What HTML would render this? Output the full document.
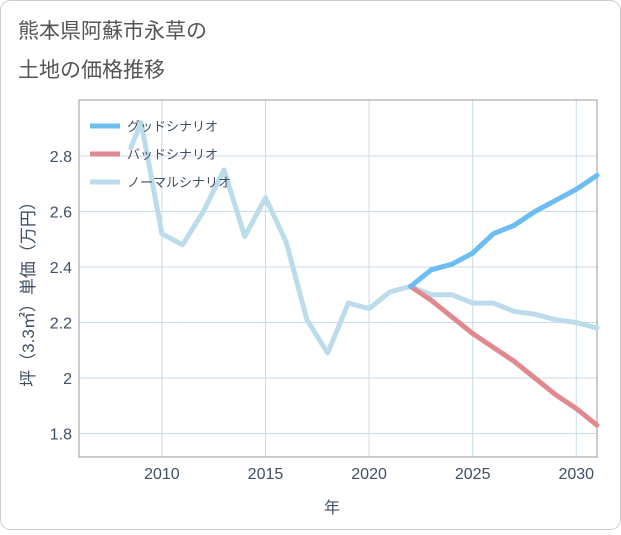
<!DOCTYPE html>
<html><head><meta charset="utf-8"><style>
body{margin:0;background:#fff}
svg text{font-family:"Liberation Sans","Noto Sans CJK JP",sans-serif}
</style></head><body>
<svg id="c" width="621" height="530" xmlns="http://www.w3.org/2000/svg">
<rect x="0.5" y="0.5" width="620" height="529" rx="10" fill="#fff" stroke="#ccc"/>
<text x="18" y="38" font-size="21" fill="#555">熊本県阿蘇市永草の</text>
<text x="18" y="77" font-size="21" fill="#555">土地の価格推移</text>
<g id="grid"></g>
<rect x="79" y="100" width="518" height="357" fill="none" stroke="#999"/>
<g id="series"></g>
<g id="legend"></g>
<text x="332" y="513" font-size="16" fill="#3f4f66" text-anchor="middle">年</text>
<text transform="translate(34,290) rotate(-90)" font-size="17" fill="#3f4f66" text-anchor="middle">坪（3.3㎡）単価（万円）</text>
</svg>
<script>
const xTicks=[2010,2015,2020,2025,2030];
const yTicks=[1.8,2,2.2,2.4,2.6,2.8];
const yTickLabels=["1.8","2","2.2","2.4","2.6","2.8"];
const normalYears=[2008.5,2009,2010,2011,2012,2013,2014,2015,2016,2017,2018,2019,2020,2021,2022,2023,2024,2025,2026,2027,2028,2029,2030,2031];
const normalVals=[2.83,2.92,2.52,2.48,2.60,2.75,2.51,2.65,2.49,2.21,2.09,2.27,2.25,2.31,2.33,2.30,2.30,2.27,2.27,2.24,2.23,2.21,2.20,2.18];
const futureYears=[2022,2023,2024,2025,2026,2027,2028,2029,2030,2031];
const goodVals=[2.33,2.39,2.41,2.45,2.52,2.55,2.60,2.64,2.68,2.73];
const badVals=[2.33,2.28,2.22,2.16,2.11,2.06,2.00,1.94,1.89,1.83];
const X=v=>79+(v-2006)*(518/25);
const Y=v=>156+(2.8-v)*277.5;
const NS="http://www.w3.org/2000/svg";
function mk(t,a,p){const e=document.createElementNS(NS,t);for(const k in a)e.setAttribute(k,a[k]);p.appendChild(e);return e;}
const g=document.getElementById('grid');
xTicks.forEach((t,i)=>{
 const l=mk('line',{x1:X(t),x2:X(t),y1:100,y2:457,stroke:'#c8dbe8'},g);
 
 
 const tx=mk('text',{x:X(t),y:479,'font-size':16,fill:'#3f4f66','text-anchor':'middle'},g);tx.textContent=t;
 
 
});
yTicks.forEach((t,i)=>{
 const l=mk('line',{x1:79,x2:597,y1:Y(t),y2:Y(t),stroke:'#c8dbe8'},g);
 
 
 const tx=mk('text',{x:72,y:Y(t)+6,'font-size':16,fill:'#3f4f66','text-anchor':'end'},g);tx.textContent=yTickLabels[i];
 
 
});
const s=document.getElementById('series');
function line(xs,ys,c,n){
 const p=mk('polyline',{points:xs.map((x,i)=>X(x)+','+Y(ys[i])).join(' '),fill:'none',stroke:c,'stroke-width':5,'stroke-linejoin':'round','stroke-linecap':'round'},s);
 
 
}
line(normalYears,normalVals,'#bcdcec','normal-scenario-line');
line(futureYears,badVals,'#e08a8f','bad-scenario-line');
line(futureYears,goodVals,'#6bbdf2','good-scenario-line');
const lg=document.getElementById('legend');
[['グッドシナリオ','#6bbdf2','legend-good'],['バッドシナリオ','#e08a8f','legend-bad'],['ノーマルシナリオ','#bcdcec','legend-normal']].forEach((d,i)=>{
 const y=126+i*28;
 const gg=mk('g',{},lg);
 
 
 mk('line',{x1:90,x2:120,y1:y,y2:y,stroke:d[1],'stroke-width':5},gg);
 const t=mk('text',{x:127,y:y+5,'font-size':13,fill:'#3f4f66'},gg);t.textContent=d[0];
});
</script>
</body></html>
